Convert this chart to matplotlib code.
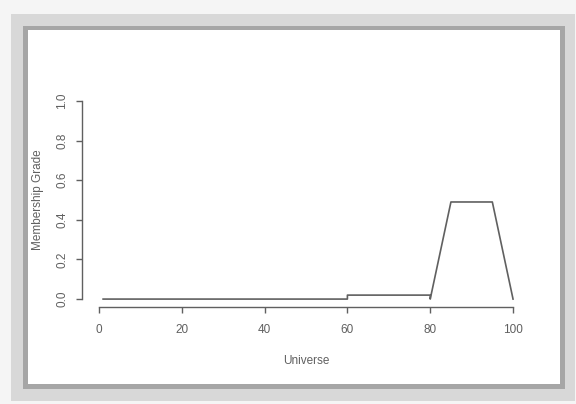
import matplotlib
matplotlib.use('Agg')
import matplotlib.pyplot as plt
from matplotlib.patches import Rectangle

# 数据
universe = [1, 60, 60, 80, 80, 85, 95, 100]
grade = [0.0, 0.0, 0.02, 0.02, 0.0, 0.49, 0.49, 0.0]
x_ticks = [0, 20, 40, 60, 80, 100]
y_ticks = [0.0, 0.2, 0.4, 0.6, 0.8, 1.0]

plt.rcParams['font.family'] = ['Liberation Sans', 'DejaVu Sans']

W, H = 576, 404
fig = plt.figure(figsize=(W / 100, H / 100), dpi=100)
fig.patch.set_facecolor('#f5f5f5')


def px_rect(x0, y0, x1, y1, color):
    # 像素坐标(左上为原点) -> 图坐标
    fig.patches.append(Rectangle((x0 / W, 1 - y1 / H), (x1 - x0) / W, (y1 - y0) / H,
                                 transform=fig.transFigure, facecolor=color,
                                 edgecolor='none', zorder=-3))


# 截图的阴影边框
px_rect(11, 14, 575, 401, '#d8d8d8')
px_rect(23, 26, 565, 389, '#a6a6a6')
px_rect(28, 30, 560, 384, 'white')

left, right, top, bottom = 82.4, 529.6, 93, 307
ax = fig.add_axes([left / W, 1 - bottom / H, (right - left) / W, (bottom - top) / H])
ax.set_facecolor('none')

ax.plot(universe, grade, color='#606060', linewidth=1.2)

ax.set_xlim(-4, 104)
ax.set_ylim(-0.04, 1.04)
ax.set_xticks(x_ticks)
ax.set_yticks(y_ticks)
ax.set_xticklabels(['%d' % t for t in x_ticks])
ax.set_yticklabels(['%.1f' % t for t in y_ticks], rotation=90, va='center')

for s in ['top', 'right']:
    ax.spines[s].set_visible(False)
ax.spines['left'].set_bounds(0, 1)
ax.spines['bottom'].set_bounds(0, 100)
for s in ['left', 'bottom']:
    ax.spines[s].set_color('#606060')
    ax.spines[s].set_linewidth(1.0)

ax.tick_params(axis='both', direction='out', length=4, width=1.0, color='#606060',
               labelsize=8.5, labelcolor='#606060')
ax.tick_params(axis='x', pad=8)
ax.tick_params(axis='y', pad=6)

ax.set_xlabel('Universe', fontsize=8.5, color='#606060', va='center')
ax.set_ylabel('Membership Grade', fontsize=8.5, color='#606060', va='center')
ax.xaxis.set_label_coords(0.5, -(361 - bottom) / (bottom - top))
ax.yaxis.set_label_coords(-(left - 38) / (right - left), 0.5)

fig.savefig('out.png', dpi=100, facecolor=fig.get_facecolor())
